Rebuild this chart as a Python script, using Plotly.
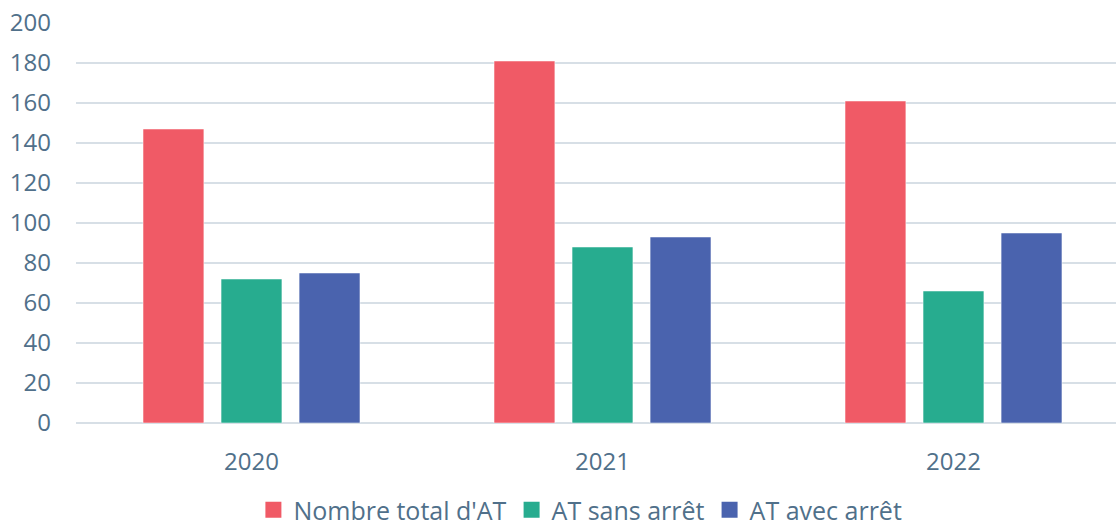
import plotly.graph_objects as go

years = ["2020", "2021", "2022"]
total_at = [147, 181, 161]
at_sans_arret = [72, 88, 66]
at_avec_arret = [75, 93, 95]

SERIES = [
    ("Nombre total d'AT", total_at, "#F05A66"),
    ("AT sans arrêt", at_sans_arret, "#27AC8F"),
    ("AT avec arrêt", at_avec_arret, "#4A63AE"),
]

TEXT_COLOR = "#50708A"
GRID_COLOR = "#D7DFE6"
FONT = "'Open Sans', Lato, sans-serif"

fig = go.Figure()
for name, values, color in SERIES:
    fig.add_trace(
        go.Bar(
            x=years,
            y=values,
            name=name,
            showlegend=False,
            marker=dict(color=color, line=dict(width=1, color="rgba(255,255,255,0.5)")),
        )
    )

# legend entries with larger square swatches than the bar legend icons
for name, _, color in SERIES:
    fig.add_trace(
        go.Scatter(
            x=[None],
            y=[None],
            mode="markers",
            name=name,
            marker=dict(symbol="square", size=16, color=color),
        )
    )

fig.update_layout(
    width=1116,
    height=526,
    barmode="group",
    bargap=0.333,
    bargroupgap=0.22,
    plot_bgcolor="white",
    paper_bgcolor="white",
    font=dict(family=FONT, size=24, color=TEXT_COLOR),
    margin=dict(l=76, r=0, t=23, b=103, autoexpand=False),
    showlegend=True,
    legend=dict(
        orientation="h",
        x=0.485,
        xanchor="center",
        y=-0.16,
        yanchor="top",
        font=dict(family=FONT, size=25, color=TEXT_COLOR),
        itemwidth=30,
    ),
)
fig.update_xaxes(
    range=[-0.5, 2.463],
    showgrid=False,
    showline=False,
    ticks="",
    ticklabelstandoff=22,
)
fig.update_yaxes(
    range=[0, 200],
    dtick=20,
    showgrid=True,
    gridcolor=GRID_COLOR,
    gridwidth=2,
    zeroline=True,
    zerolinecolor=GRID_COLOR,
    zerolinewidth=2,
    showline=False,
    ticks="",
    ticklabelstandoff=24,
)

# the page's default body margin would shift the fixed-size figure
fig.write_html(
    "out.html",
    config={"displayModeBar": False},
    post_script="document.body.style.margin = '0';",
)
